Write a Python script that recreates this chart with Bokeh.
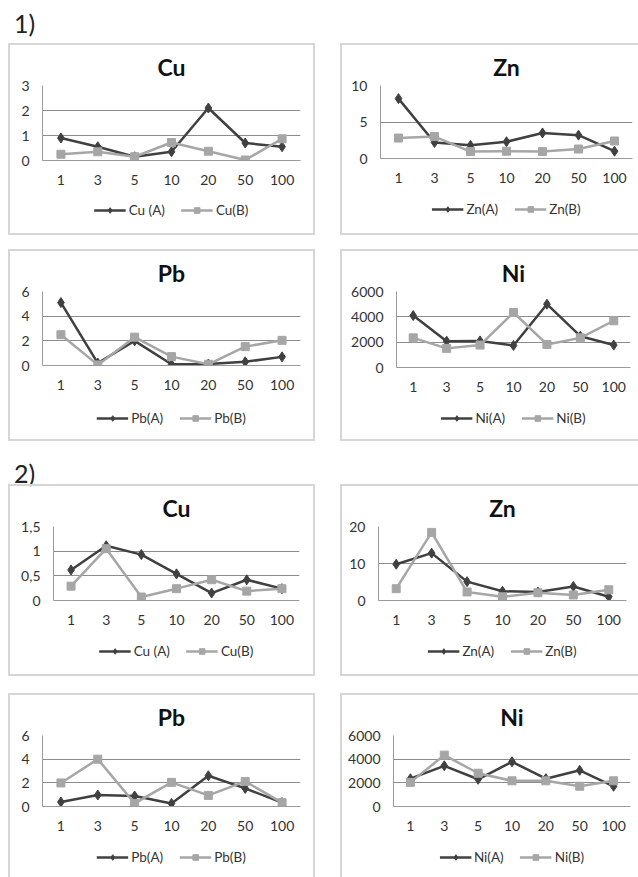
import numpy as np
from bokeh.plotting import figure
from bokeh.models import (ColumnDataSource, FactorRange, Range1d, FixedTicker,
                          Legend, LegendItem, Div, Spacer)
from bokeh.layouts import column, row
from bokeh.embed import file_html
from bokeh.resources import INLINE

# ---------------- data ----------------
concentrations = ["1", "3", "5", "10", "20", "50", "100"]

cu1_a = [0.9, 0.55, 0.15, 0.35, 2.1, 0.7, 0.55]
cu1_b = [0.25, 0.35, 0.15, 0.72, 0.37, 0.02, 0.87]
zn1_a = [8.2, 2.2, 1.8, 2.3, 3.5, 3.2, 1.0]
zn1_b = [2.8, 3.0, 0.95, 1.0, 0.95, 1.3, 2.4]
pb1_a = [5.1, 0.2, 2.0, 0.1, 0.12, 0.3, 0.7]
pb1_b = [2.5, 0.05, 2.3, 0.72, 0.1, 1.53, 2.04]
ni1_a = [4100, 2080, 2100, 1740, 5000, 2470, 1770]
ni1_b = [2340, 1510, 1770, 4340, 1820, 2340, 3690]

cu2_a = [0.62, 1.11, 0.93, 0.54, 0.15, 0.42, 0.24]
cu2_b = [0.29, 1.05, 0.07, 0.24, 0.42, 0.19, 0.24]
zn2_a = [9.8, 12.8, 5.1, 2.5, 2.3, 3.8, 1.0]
zn2_b = [3.2, 18.4, 2.3, 1.0, 2.1, 1.5, 2.9]
pb2_a = [0.38, 0.97, 0.89, 0.26, 2.6, 1.53, 0.33]
pb2_b = [1.99, 4.0, 0.26, 2.04, 0.94, 2.12, 0.33]
ni2_a = [2350, 3440, 2300, 3780, 2350, 3060, 1710]
ni2_b = [2040, 4340, 2810, 2170, 2170, 1710, 2170]

cu1_ticks = [0, 1, 2, 3]
zn1_ticks = [0, 5, 10]
pb_ticks = [0, 2, 4, 6]
ni_ticks = [0, 2000, 4000, 6000]
cu2_ticks = [0, 0.5, 1, 1.5]
cu2_tick_labels = ["0", "0,5", "1", "1,5"]
zn2_ticks = [0, 10, 20]

FONT = "Lato"
DARK = "#404040"
LIGHT = "#a6a6a6"
BORDER = "2px solid #d6d6d6"


def series_glyphs(p, src):
    ra = p.line("x", "a", source=src, line_color=DARK, line_width=2.5)
    sa = p.scatter("x", "a", source=src, marker="diamond", size=10,
                   fill_color=DARK, line_color=DARK)
    rb = p.line("x", "b", source=src, line_color=LIGHT, line_width=2.5)
    sb = p.scatter("x", "b", source=src, marker="square", size=8,
                   fill_color=LIGHT, line_color=LIGHT)
    return ra, sa, rb, sb


def panel(title, a, b, la, lb, ticks, cw, main_h, leg_h, mbl, mbr, mbt, leg_top,
          sides, tick_labels=None):
    p = figure(width=cw, height=main_h,
               x_range=FactorRange(*concentrations, range_padding=0),
               y_range=Range1d(ticks[0], ticks[-1]),
               output_backend="svg", toolbar_location=None,
               min_border_left=mbl, min_border_right=mbr,
               min_border_top=mbt, min_border_bottom=38,
               outline_line_color=None)
    p.title.text = title
    p.title.align = "center"
    p.title.text_font = FONT
    p.title.text_font_size = "23px"
    p.title.text_font_style = "bold"
    p.title.text_color = "#111111"
    p.title.standoff = 10

    src = ColumnDataSource(dict(x=concentrations, a=a, b=b))
    series_glyphs(p, src)

    for ax in (p.xaxis[0], p.yaxis[0]):
        ax.major_tick_out = 0
        ax.major_tick_in = 0
        ax.minor_tick_out = 0
        ax.minor_tick_in = 0
        ax.axis_line_color = "#9a9a9a"
        ax.major_label_text_font = FONT
        ax.major_label_text_font_size = "14px"
        ax.major_label_text_color = "#333333"
    p.xaxis.major_label_standoff = 14
    p.yaxis.major_label_standoff = 13
    p.yaxis.ticker = FixedTicker(ticks=ticks)
    if tick_labels is not None:
        p.yaxis.major_label_overrides = {t: l for t, l in zip(ticks, tick_labels)}
    else:
        p.yaxis.major_label_overrides = {t: str(t) for t in ticks}
    p.xgrid.visible = False
    p.ygrid.grid_line_color = "#8c8c8c"
    p.ygrid.grid_line_width = 1

    # legend strip underneath: same glyph styles, no data (legend symbols only)
    lg = figure(width=cw, height=leg_h, x_range=Range1d(0, 1), y_range=Range1d(0, 1),
                output_backend="svg", toolbar_location=None,
                x_axis_type=None, y_axis_type=None, outline_line_color=None,
                min_border=0)
    lg.grid.visible = False
    nodata = ColumnDataSource(dict(x=np.array([np.nan]), a=np.array([np.nan]),
                                   b=np.array([np.nan])))
    ra, sa, rb, sb = series_glyphs(lg, nodata)
    legend = Legend(items=[LegendItem(label=la, renderers=[ra, sa]),
                           LegendItem(label=lb, renderers=[rb, sb])],
                    orientation="horizontal", location="top_center",
                    border_line_color=None, background_fill_alpha=0,
                    label_text_font=FONT, label_text_font_size="13.5px",
                    label_text_color="#333333", glyph_width=32, glyph_height=14,
                    label_standoff=3, spacing=16, padding=0, margin=leg_top)
    lg.add_layout(legend)

    styles = {"border-" + s: BORDER for s in sides}
    return column(p, lg, styles=styles)


ALL = ["left", "right", "top", "bottom"]
cu1 = panel("Cu", cu1_a, cu1_b, "Cu (A)", "Cu(B)", cu1_ticks, 303, 153, 35, 32, 13, 37, 4, ALL)
zn1 = panel("Zn", zn1_a, zn1_b, "Zn(A)", "Zn(B)", zn1_ticks, 296, 151, 37, 38, 6, 35, 5,
            ["left", "top", "bottom"])
pb1 = panel("Pb", pb1_a, pb1_b, "Pb(A)", "Pb(B)", pb_ticks, 303, 152, 36, 32, 13, 36, 7, ALL)
ni1 = panel("Ni", ni1_a, ni1_b, "Ni(A)", "Ni(B)", ni_ticks, 296, 154, 34, 54, 8, 38, 5,
            ["left", "top", "bottom"])
cu2 = panel("Cu", cu2_a, cu2_b, "Cu (A)", "Cu(B)", cu2_ticks, 303, 152, 36, 43, 14, 36, 5, ALL,
            tick_labels=cu2_tick_labels)
zn2 = panel("Zn", zn2_a, zn2_b, "Zn(A)", "Zn(B)", zn2_ticks, 296, 152, 36, 36, 12, 36, 5,
            ["left", "top", "bottom"])
pb2 = panel("Pb", pb2_a, pb2_b, "Pb(A)", "Pb(B)", pb_ticks, 303, 149, 34, 32, 13, 33, 5,
            ["left", "right", "top"])
ni2 = panel("Ni", ni2_a, ni2_b, "Ni(A)", "Ni(B)", ni_ticks, 296, 149, 34, 51, 8, 33, 5,
            ["left", "top"])


def label_div(txt, top):
    return Div(text='<div style="font-family:Lato;font-size:25px;color:#222;'
                    'padding:%dpx 0 0 14px;line-height:1.2">%s</div>' % (top, txt),
               width=100, height=43, margin=0)


def r(a, b):
    return row(Spacer(width=8), a, Spacer(width=25), b)


layout = column(label_div("1)", 8), r(cu1, zn1), Spacer(height=14), r(pb1, ni1),
                label_div("2)", 17), r(cu2, zn2), Spacer(height=17), r(pb2, ni2))

open("out.html", "w").write(file_html(layout, INLINE))
